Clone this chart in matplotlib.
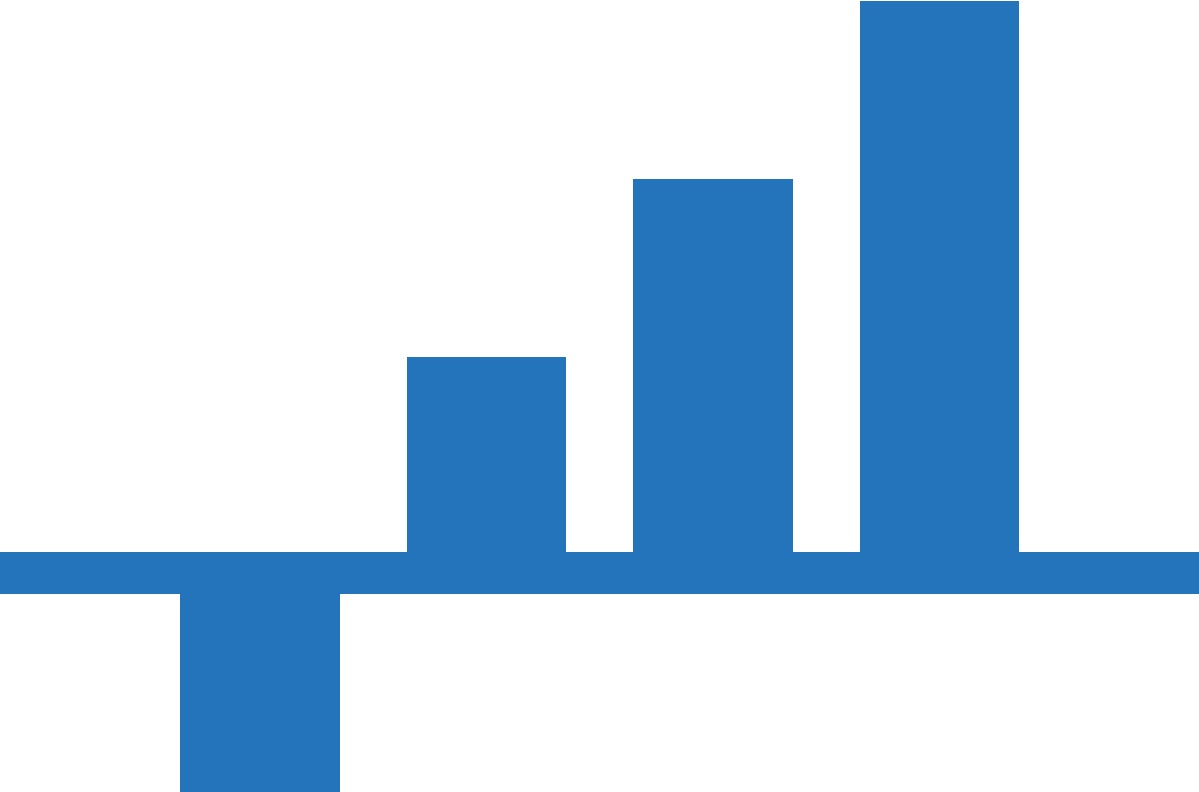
import matplotlib
matplotlib.use("Agg")
import matplotlib.pyplot as plt
import numpy as np

# slot positions across the width; the outer two slots are empty
slots = [0, 1, 2, 3, 4, 5]
values = [0.0, -1.25, 1.216, 2.216, 3.216, 0.0]

blue = "#2474bc"

fig = plt.figure(figsize=(11.99, 7.92), dpi=100)
ax = fig.add_axes([0, 0, 1, 1])

ax.bar(slots, values, width=0.706, color=blue, linewidth=0)
# thick baseline band at zero
ax.axhspan(-0.118, 0.118, color=blue, linewidth=0)

ax.set_xlim(-0.148, 5.146)
ax.set_ylim(-1.230, 3.219)
ax.axis("off")

fig.savefig("out.png", dpi=100, facecolor="white")
